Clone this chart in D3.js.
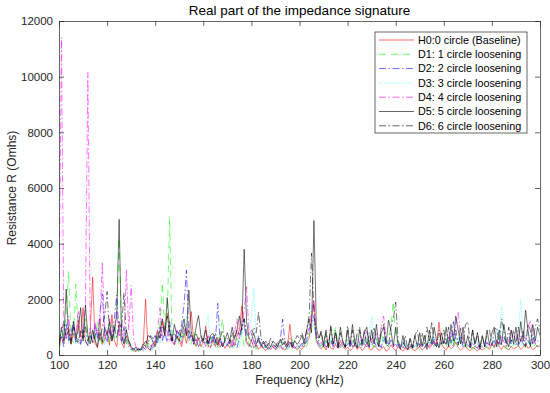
<!DOCTYPE html>
<html>
<head>
<meta charset="utf-8">
<script src="https://cdn.jsdelivr.net/npm/d3@7"></script>
<style>
  body { margin: 0; background: #fff; }
  svg { font-family: "Liberation Sans", Arial, sans-serif; }
  .axis path, .axis line { stroke: #262626; stroke-width: 0.7; }
  .axis text { fill: #262626; font-size: 11.5px; }
</style>
</head>
<body>
<div id="chart"></div>
<script>
// frequency grid, kHz (one value per kHz, 100..300)
var freqs = d3.range(100, 301, 1);
var xTicks = [100, 120, 140, 160, 180, 200, 220, 240, 260, 280, 300];
var yTicks = [0, 2000, 4000, 6000, 8000, 10000, 12000];

var seriesNames = [
  "H0:0 circle (Baseline)", "D1: 1 circle loosening", "D2: 2 circle loosening",
  "D3: 3 circle loosening", "D4: 4 circle loosening", "D5: 5 circle loosening",
  "D6: 6 circle loosening"
];

var h0 = [
  300, 650, 420, 900, 1000, 380, 760, 520, 1250, 640,
  1700, 480, 350, 900, 2800, 420, 260, 1300, 380, 600,
  880, 350, 1450, 520, 300, 1100, 450, 260, 700, 380,
  250, 160, 120, 220, 180, 340, 2000, 260, 150, 420,
  380, 900, 620, 1200, 700, 1500, 850, 480, 360, 620,
  540, 300, 780, 420, 900, 1560, 480, 320, 620, 300,
  480, 1050, 340, 260, 520, 300, 640, 280, 420, 240,
  380, 260, 540, 320, 680, 900, 1750, 1100, 460, 300,
  520, 260, 380, 200, 300, 240, 160, 280, 200, 320,
  180, 260, 350, 220, 180, 320, 1100, 240, 300, 180,
  260, 200, 340, 480, 600, 1300, 1900, 520, 300, 220,
  340, 180, 420, 260, 200, 380, 240, 520, 300, 200,
  280, 160, 240, 380, 200, 300, 160, 260, 420, 220,
  180, 340, 260, 160, 220, 300, 140, 200, 360, 240,
  160, 300, 220, 140, 260, 180, 320, 200, 150, 240,
  300, 180, 260, 420, 240, 360, 500, 300, 1180, 400,
  260, 180, 340, 220, 300, 460, 260, 180, 240, 320,
  200, 160, 280, 220, 140, 260, 180, 240, 300, 200,
  380, 260, 520, 300, 200, 340, 240, 180, 300, 220,
  260, 340, 200, 280, 420, 240, 300, 200, 260, 340,
  280
];

var d1 = [
  200, 520, 800, 1400, 3000, 600, 450, 2550, 900, 420,
  700, 1300, 520, 380, 900, 460, 1200, 600, 320, 540,
  760, 420, 1100, 600, 1500, 4200, 700, 380, 560, 300,
  200, 140, 260, 120, 180, 240, 160, 420, 280, 200,
  360, 700, 1100, 2600, 800, 1300, 4950, 600, 420, 700,
  380, 560, 900, 460, 640, 380, 820, 300, 520, 380,
  260, 480, 340, 620, 300, 540, 260, 680, 1290, 420,
  300, 520, 240, 380, 600, 460, 820, 300, 680, 420,
  260, 380, 200, 540, 300, 220, 360, 180, 280, 400,
  220, 320, 180, 480, 260, 200, 340, 560, 280, 200,
  360, 240, 520, 300, 680, 900, 1100, 460, 300, 380,
  240, 520, 300, 420, 640, 1000, 380, 260, 480, 300,
  560, 280, 420, 660, 300, 480, 240, 380, 700, 320,
  420, 260, 560, 340, 800, 460, 300, 620, 1000, 1920,
  700, 380, 260, 420, 300, 180, 340, 240, 380, 260,
  200, 320, 440, 260, 380, 560, 300, 420, 260, 360,
  480, 300, 560, 380, 640, 420, 300, 520, 260, 380,
  240, 360, 200, 300, 420, 260, 180, 340, 240, 300,
  380, 260, 520, 340, 460, 300, 220, 400, 280, 360,
  420, 300, 560, 380, 260, 480, 340, 220, 400, 300,
  360
];

var d2 = [
  400, 700, 300, 1100, 520, 800, 1200, 460, 600, 380,
  900, 520, 340, 700, 480, 1100, 600, 1500, 2200, 700,
  460, 900, 600, 1300, 2150, 800, 500, 1000, 420, 300,
  180, 240, 140, 200, 160, 280, 200, 300, 180, 560,
  700, 400, 1000, 520, 820, 460, 1200, 600, 380, 900,
  700, 1100, 1800, 3050, 600, 820, 380, 560, 300, 480,
  600, 380, 520, 300, 700, 420, 1860, 500, 300, 460,
  340, 560, 300, 480, 260, 620, 900, 1300, 460, 380,
  300, 540, 260, 700, 420, 240, 360, 200, 320, 280,
  200, 360, 540, 1290, 380, 220, 300, 460, 240, 320,
  280, 420, 300, 560, 900, 1200, 1400, 600, 380, 300,
  460, 280, 380, 540, 300, 420, 260, 360, 480, 300,
  380, 560, 300, 440, 260, 380, 620, 300, 460, 280,
  340, 520, 300, 420, 260, 640, 380, 300, 540, 420,
  300, 380, 240, 460, 300, 220, 380, 260, 340, 480,
  300, 420, 260, 380, 500, 340, 620, 300, 440, 360,
  500, 380, 640, 420, 1200, 560, 380, 700, 300, 460,
  340, 280, 420, 300, 240, 380, 260, 320, 440, 300,
  380, 520, 300, 460, 360, 640, 420, 300, 540, 380,
  460, 340, 600, 420, 300, 520, 380, 660, 440, 300,
  380
];

var d3s = [
  600, 900, 500, 1200, 400, 700, 1000, 380, 820, 500,
  640, 1100, 400, 760, 520, 900, 440, 1000, 600, 380,
  700, 1200, 480, 820, 500, 1000, 600, 380, 760, 420,
  260, 160, 220, 140, 200, 260, 180, 240, 320, 200,
  500, 820, 420, 1000, 600, 1300, 700, 900, 380, 560,
  800, 460, 1000, 1400, 520, 700, 380, 600, 440, 520,
  700, 1000, 1450, 400, 560, 320, 640, 380, 500, 300,
  460, 340, 620, 400, 560, 300, 800, 1200, 700, 900,
  1400, 2380, 600, 420, 300, 460, 260, 380, 220, 340,
  260, 380, 220, 460, 300, 240, 380, 200, 320, 260,
  380, 300, 520, 420, 800, 1800, 1200, 460, 340, 420,
  300, 480, 360, 600, 300, 420, 540, 300, 460, 380,
  520, 300, 460, 380, 640, 300, 520, 420, 800, 600,
  1400, 460, 700, 380, 560, 420, 600, 300, 500, 380,
  460, 300, 380, 240, 420, 300, 200, 360, 280, 420,
  340, 480, 300, 420, 560, 380, 700, 460, 320, 540,
  400, 640, 380, 520, 300, 700, 460, 600, 380, 300,
  460, 340, 560, 300, 420, 260, 380, 500, 300, 460,
  620, 380, 900, 520, 1760, 600, 420, 700, 380, 560,
  480, 900, 2000, 640, 420, 820, 500, 380, 700, 460,
  520
];

var d4 = [
  1800, 11400, 900, 600, 1400, 500, 1100, 700, 1600, 420,
  800, 1700, 10150, 900, 460, 1200, 600, 1000, 3350, 700,
  500, 1300, 640, 900, 1600, 700, 1100, 460, 3080, 900,
  2500, 600, 300, 180, 240, 160, 280, 200, 340, 260,
  600, 900, 1700, 600, 1100, 820, 460, 700, 380, 900,
  600, 420, 800, 1100, 500, 700, 380, 600, 300, 460,
  520, 300, 700, 380, 560, 420, 300, 640, 380, 500,
  340, 560, 300, 800, 1300, 600, 1100, 1600, 2450, 700,
  900, 460, 300, 520, 380, 260, 420, 300, 200, 360,
  280, 420, 300, 200, 360, 500, 280, 400, 240, 320,
  420, 300, 560, 700, 1000, 1500, 1980, 600, 380, 460,
  300, 520, 380, 460, 300, 640, 380, 260, 480, 340,
  420, 300, 560, 360, 700, 420, 300, 520, 900, 460,
  600, 380, 820, 500, 1000, 1400, 560, 380, 460, 300,
  380, 260, 420, 300, 200, 340, 260, 380, 300, 220,
  300, 420, 260, 380, 300, 520, 380, 460, 300, 420,
  500, 380, 600, 900, 700, 1100, 1560, 600, 420, 500,
  380, 300, 460, 340, 260, 420, 300, 380, 460, 300,
  420, 300, 560, 380, 700, 460, 340, 520, 900, 600,
  500, 820, 460, 700, 560, 1000, 1250, 600, 400, 520,
  440
];

var d5 = [
  300, 1000, 500, 2370, 700, 400, 1200, 620, 900, 1700,
  500, 1800, 700, 400, 900, 520, 300, 800, 460, 1000,
  700, 1200, 500, 900, 1400, 4875, 700, 400, 900, 520,
  300, 200, 280, 160, 220, 400, 300, 700, 650, 500,
  300, 600, 900, 1300, 700, 2060, 900, 500, 1100, 700,
  500, 900, 1300, 700, 2330, 800, 500, 1000, 1420, 700,
  500, 900, 400, 700, 780, 500, 360, 600, 300, 520,
  800, 500, 1000, 600, 900, 1400, 900, 3800, 1200, 600,
  500, 800, 400, 600, 300, 500, 260, 420, 300, 500,
  400, 300, 560, 360, 500, 300, 460, 280, 520, 380,
  500, 700, 400, 900, 1300, 800, 4830, 1000, 600, 800,
  300, 900, 250, 1000, 400, 800, 300, 1000, 500, 250,
  900, 300, 1100, 500, 250, 900, 400, 800, 1000, 300,
  900, 400, 1100, 300, 800, 1000, 400, 1250, 900, 300,
  1000, 400, 200, 700, 300, 200, 600, 250, 700, 300,
  800, 300, 700, 200, 900, 400, 1000, 500, 250, 800,
  400, 1000, 300, 1100, 500, 1400, 900, 400, 1000, 300,
  700, 250, 900, 400, 800, 200, 700, 300, 900, 350,
  800, 1000, 300, 900, 400, 1100, 500, 300, 900, 400,
  1000, 400, 1200, 500, 1610, 900, 300, 1100, 500, 1000,
  700
];

var d6 = [
  500, 800, 1200, 600, 900, 500, 1000, 700, 400, 900,
  600, 1000, 500, 800, 400, 700, 900, 500, 1000, 1400,
  2280, 800, 500, 1000, 600, 1200, 900, 2230, 700, 500,
  300, 200, 160, 240, 180, 300, 500, 400, 700, 600,
  400, 800, 600, 1000, 900, 1400, 700, 500, 800, 600,
  900, 600, 1100, 700, 900, 600, 400, 800, 500, 700,
  400, 600, 300, 700, 500, 800, 400, 600, 900, 500,
  600, 400, 800, 500, 900, 700, 1000, 1300, 800, 600,
  700, 1000, 800, 1560, 600, 400, 500, 300, 600, 400,
  300, 500, 400, 600, 300, 400, 600, 300, 500, 700,
  600, 800, 500, 900, 1400, 3660, 1500, 700, 500, 900,
  400, 800, 300, 1050, 350, 900, 250, 800, 400, 300,
  1050, 400, 900, 300, 800, 1000, 350, 900, 300, 800,
  400, 1000, 500, 300, 900, 1100, 400, 300, 1000, 1300,
  1900, 500, 300, 250, 700, 200, 600, 250, 700, 900,
  300, 800, 400, 1000, 500, 1200, 400, 300, 900, 350,
  900, 400, 1000, 500, 300, 900, 350, 1000, 400, 1100,
  1200, 350, 900, 300, 800, 250, 700, 300, 800, 900,
  350, 900, 1000, 400, 1300, 900, 300, 1000, 400, 900,
  350, 1000, 500, 900, 300, 1100, 900, 400, 1000, 1300,
  900
];

var seriesValues = [h0, d1, d2, d3s, d4, d5, d6];
var seriesColors = ["#ff0000", "#00ff00", "#0000ff", "#00ffff", "#ff00ff", "#000000", "#000000"];
var seriesDash = ["none", "7,5", "7,2.5,1.5,2.5", "1,1.5", "7,2.5,1.5,2.5", "none", "7,2.5,1.5,2.5"];

var width = 550, height = 393;
var plotLeft = 59, plotRight = 540, plotTop = 21, plotBottom = 355;

var svg = d3.select("#chart").append("svg")
  .attr("width", width)
  .attr("height", height);

var x = d3.scaleLinear().domain([100, 300]).range([plotLeft, plotRight]);
var y = d3.scaleLinear().domain([0, 12000]).range([plotBottom, plotTop]);

svg.append("clipPath").attr("id", "plotclip")
  .append("rect")
  .attr("x", plotLeft).attr("y", plotTop)
  .attr("width", plotRight - plotLeft).attr("height", plotBottom - plotTop);

var line = d3.line()
  .x(function(d, i) { return x(freqs[i]); })
  .y(function(d) { return y(d); });

var plot = svg.append("g").attr("clip-path", "url(#plotclip)");

seriesValues.forEach(function(vals, k) {
  plot.append("path")
    .datum(vals)
    .attr("fill", "none")
    .attr("stroke", seriesColors[k])
    .attr("stroke-width", 0.55)
    .attr("stroke-dasharray", seriesDash[k])
    .attr("d", line);
});

// axes, ticks inside like matlab
svg.append("g").attr("class", "axis")
  .attr("transform", `translate(0, ${plotBottom})`)
  .call(d3.axisBottom(x).tickValues(xTicks).tickSizeInner(-5).tickSizeOuter(0).tickPadding(6));

svg.append("g").attr("class", "axis")
  .attr("transform", `translate(0, ${plotTop})`)
  .call(d3.axisTop(x).tickValues(xTicks).tickSizeInner(-5).tickSizeOuter(0).tickFormat(""));

svg.append("g").attr("class", "axis")
  .attr("transform", `translate(${plotLeft}, 0)`)
  .call(d3.axisLeft(y).tickValues(yTicks).tickSizeInner(-5).tickSizeOuter(0).tickPadding(6).tickFormat(d3.format("d")));

svg.append("g").attr("class", "axis")
  .attr("transform", `translate(${plotRight}, 0)`)
  .call(d3.axisRight(y).tickValues(yTicks).tickSizeInner(-5).tickSizeOuter(0).tickFormat(""));

// titles
svg.append("text")
  .attr("x", (plotLeft + plotRight) / 2)
  .attr("y", 15)
  .attr("text-anchor", "middle")
  .style("font-size", "13.5px")
  .style("fill", "#000")
  .text("Real part of the impedance signature");

svg.append("text")
  .attr("x", (plotLeft + plotRight) / 2)
  .attr("y", 384)
  .attr("text-anchor", "middle")
  .style("font-size", "12px")
  .style("fill", "#262626")
  .text("Frequency (kHz)");

svg.append("text")
  .attr("transform", "rotate(-90)")
  .attr("x", -(plotTop + plotBottom) / 2)
  .attr("y", 16)
  .attr("text-anchor", "middle")
  .style("font-size", "12px")
  .style("fill", "#262626")
  .text("Resistance R (Omhs)");

// legend
var legend = svg.append("g");
legend.append("rect")
  .attr("x", 375).attr("y", 32)
  .attr("width", 152).attr("height", 101)
  .attr("fill", "#fff")
  .attr("stroke", "#262626")
  .attr("stroke-width", 0.7);

seriesNames.forEach(function(name, k) {
  var ly = 40 + k * 14.3;
  legend.append("line")
    .attr("x1", 379).attr("x2", 414)
    .attr("y1", ly).attr("y2", ly)
    .attr("stroke", seriesColors[k])
    .attr("stroke-width", 0.6)
    .attr("stroke-dasharray", seriesDash[k]);
  legend.append("text")
    .attr("x", 418).attr("y", ly)
    .attr("dy", "0.35em")
    .style("font-size", "10.8px")
    .style("fill", "#000")
    .text(name);
});
</script>
</body>
</html>
